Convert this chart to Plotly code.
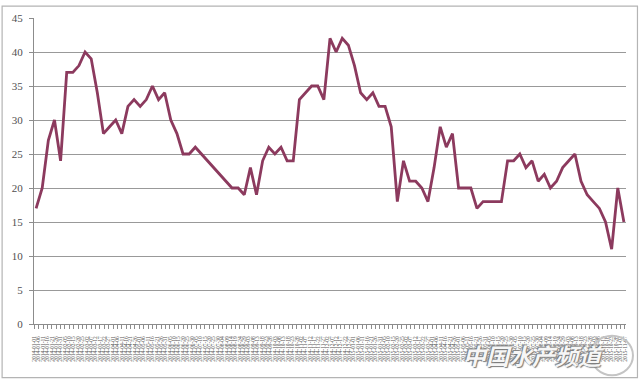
import plotly.graph_objects as go
import pandas as pd

# ---- data ----
start_date = "2014-01-03"
n_points = 97
dates = pd.date_range(start_date, periods=n_points, freq="7D")
values = [17, 20, 27, 30, 24, 37, 37, 38, 40, 39,
          34, 28, 29, 30, 28, 32, 33, 32, 33, 35,
          33, 34, 30, 28, 25, 25, 26, 25, 24, 23,
          22, 21, 20, 20, 19, 23, 19, 24, 26, 25,
          26, 24, 24, 33, 34, 35, 35, 33, 42, 40,
          42, 41, 38, 34, 33, 34, 32, 32, 29, 18,
          24, 21, 21, 20, 18, 23, 29, 26, 28, 20,
          20, 20, 17, 18, 18, 18, 18, 24, 24, 25,
          23, 24, 21, 22, 20, 21, 23, 24, 25, 21,
          19, 18, 17, 15, 11, 20, 15]
y_ticks = [0, 5, 10, 15, 20, 25, 30, 35, 40, 45]
watermark = "中国水产频道"

W, H = 640, 380
ML, MR, MT, MB = 33, 13, 13, 56
PW, PH = W - ML - MR, H - MT - MB

def px_x(p):
    return (p - ML) / PW

def px_y(p):
    return (H - MB - p) / PH

pad = pd.Timedelta(days=2.4)

fig = go.Figure()
fig.add_trace(go.Scatter(
    x=dates, y=values, mode="lines",
    line=dict(color="#8C3A5E", width=2.8),
    showlegend=False, hoverinfo="x+y",
))

fig.update_layout(
    width=W, height=H,
    margin=dict(l=ML, r=MR, t=MT, b=MB),
    paper_bgcolor="white", plot_bgcolor="white",
    font=dict(family="Liberation Serif", color="#404040"),
    shapes=[
        dict(type="rect", xref="paper", yref="paper",
             x0=px_x(1), x1=px_x(638.5), y0=px_y(378.5), y1=px_y(1),
             line=dict(color="#b4b4b4", width=1.2), layer="below"),
        dict(type="circle", xref="paper", yref="paper",
             x0=px_x(592), x1=px_x(634), y0=px_y(376), y1=px_y(336),
             line=dict(color="#c4c4c4", width=2), layer="above"),
    ],
    annotations=[
        dict(text=watermark, xref="paper", yref="paper",
             x=px_x(535), y=px_y(355), showarrow=False,
             font=dict(family="Noto Sans CJK SC", size=23, color="#f6f6f6",
                       weight="bold", style="italic",
                       shadow="1px 1px 1px #7a7a7a, -1px -1px 1px #7a7a7a"),
             xanchor="center", yanchor="middle"),
    ],
)

fig.update_xaxes(
    type="date",
    range=[dates[0] - pad, dates[-1] + pad],
    tick0=dates[0] - pd.Timedelta(days=2),
    dtick=5 * 86400000,
    tickformat="%Y-%m-%d",
    tickangle=-90,
    tickfont=dict(size=5.5, family="Liberation Serif", color="#555555"),
    ticks="outside", ticklen=4, tickcolor="#8c8c8c",
    ticklabelstandoff=5,
    showline=True, linecolor="#8c8c8c", linewidth=1,
    showgrid=False, zeroline=False,
)
fig.update_yaxes(
    range=[0, 45], tickvals=y_ticks,
    ticks="outside", ticklen=4, tickcolor="#8c8c8c",
    ticklabelstandoff=4,
    tickfont=dict(size=11, family="Liberation Serif", color="#505050"),
    showline=True, linecolor="#8c8c8c", linewidth=1,
    showgrid=True, gridcolor="#999999", gridwidth=1,
    zeroline=False,
)

fig.write_html("out.html")
